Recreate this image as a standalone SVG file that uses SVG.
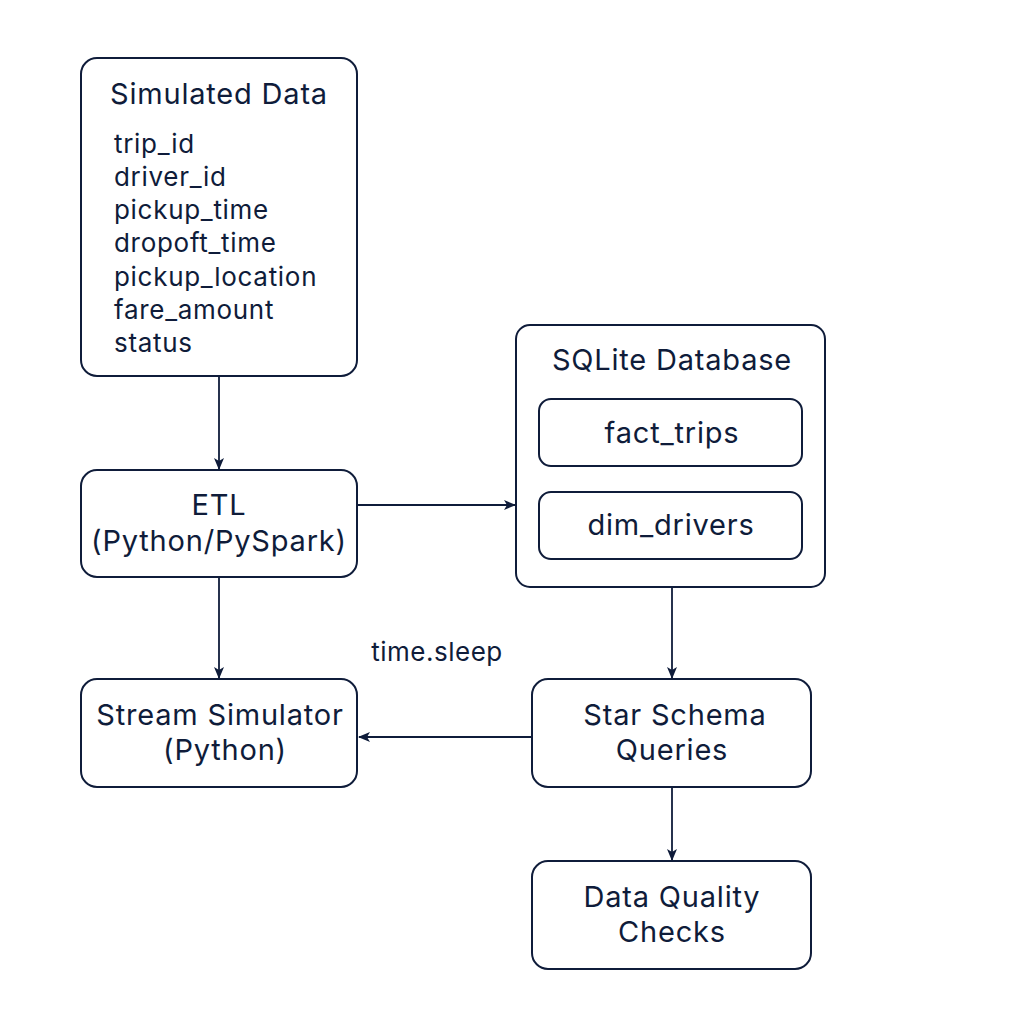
<svg xmlns="http://www.w3.org/2000/svg" width="1024" height="1024" viewBox="0 0 1024 1024">
<style>
.box{fill:#fff;stroke:#0f1c3a;stroke-width:2}
.t{font-family:Inter,"Noto Sans","Liberation Sans",sans-serif;fill:#0f1c3a;font-size:29px;letter-spacing:0.8px;font-variant-ligatures:none}
.c{text-anchor:middle}
.f{font-size:26px;letter-spacing:0.7px}
.s{font-size:26px;letter-spacing:0.5px}
.e{stroke:#0f1c3a;stroke-width:1.8;fill:none}
</style>
<defs>
<marker id="ah" viewBox="0 0 12 10" refX="11" refY="5" markerWidth="12" markerHeight="10" markerUnits="userSpaceOnUse" orient="auto">
<path d="M0,0 L12,5 L0,10 L3,5 Z" fill="#0f1c3a"/>
</marker>
</defs>
<rect width="1024" height="1024" fill="#fff"/>
<g id="edges">
<line class="e" x1="219" y1="377" x2="219" y2="469" marker-end="url(#ah)"/>
<line class="e" x1="358" y1="505" x2="515" y2="505" marker-end="url(#ah)"/>
<line class="e" x1="219" y1="578" x2="219" y2="678" marker-end="url(#ah)"/>
<line class="e" x1="672" y1="588" x2="672" y2="678" marker-end="url(#ah)"/>
<line class="e" x1="531" y1="737" x2="359" y2="737" marker-end="url(#ah)"/>
<line class="e" x1="672" y1="788" x2="672" y2="860" marker-end="url(#ah)"/>
<text class="t c s" x="437" y="661">time.sleep</text>
</g>
<g id="simulated-data">
<rect class="box" x="81" y="58" width="276" height="318" rx="16"/>
<text class="t c" x="219" y="104">Simulated Data</text>
<text class="t f" x="114" y="153">trip_id</text>
<text class="t f" x="114" y="186">driver_id</text>
<text class="t f" x="114" y="219">pickup_time</text>
<text class="t f" x="114" y="252">dropoft_time</text>
<text class="t f" x="114" y="286">pickup_location</text>
<text class="t f" x="114" y="319">fare_amount</text>
<text class="t f" x="114" y="352">status</text>
</g>
<g id="etl">
<rect class="box" x="81" y="470" width="276" height="107" rx="16"/>
<text class="t c" x="219" y="515">ETL</text>
<text class="t c" x="219" y="551">(Python/PySpark)</text>
</g>
<g id="stream-simulator">
<rect class="box" x="81" y="679" width="276" height="108" rx="16"/>
<text class="t c" x="220" y="725">Stream Simulator</text>
<text class="t c" x="225" y="760">(Python)</text>
</g>
<g id="sqlite">
<rect class="box" x="516" y="325" width="309" height="262" rx="14"/>
<text class="t c" x="672" y="370">SQLite Database</text>
</g>
<g id="fact-trips">
<rect class="box" x="539" y="399" width="263" height="67" rx="12"/>
<text class="t c" x="672" y="443">fact_trips</text>
</g>
<g id="dim-drivers">
<rect class="box" x="539" y="492" width="263" height="67" rx="12"/>
<text class="t c" x="671" y="535">dim_drivers</text>
</g>
<g id="star-schema">
<rect class="box" x="532" y="679" width="279" height="108" rx="16"/>
<text class="t c" x="675" y="725">Star Schema</text>
<text class="t c" x="672" y="760">Queries</text>
</g>
<g id="data-quality">
<rect class="box" x="532" y="861" width="279" height="108" rx="16"/>
<text class="t c" x="672" y="907">Data Quality</text>
<text class="t c" x="672" y="942">Checks</text>
</g>
</svg>
